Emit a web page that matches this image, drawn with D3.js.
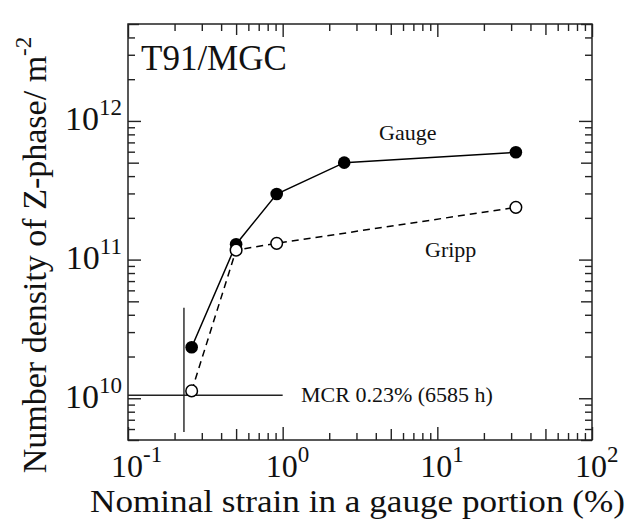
<!DOCTYPE html>
<html>
<head>
<meta charset="utf-8">
<script src="https://cdn.jsdelivr.net/npm/d3@7"></script>
<style>
  body { margin: 0; background: #fff; }
  text { font-family: "Liberation Serif", "Times New Roman", serif; fill: #111; }
</style>
</head>
<body>
<svg id="chart" width="630" height="519"></svg>
<script>
// Nominal strain (%) and Z-phase number density (m^-2)
const strainGauge  = [0.258, 0.5, 0.915, 2.5, 32.2];
const densityGauge = [2.33e10, 1.29e11, 2.97e11, 5.0e11, 5.94e11];
const strainGripp  = [0.258, 0.5, 0.915, 32.2];
const densityGripp = [1.13e10, 1.17e11, 1.31e11, 2.38e11];

// MCR reference cross (0.23 % strain, 6585 h)
const mcrStrain = 0.23;
const mcrDensity = 1.05e10;
const mcrDensityRange = [5.7e9, 4.5e10];
const mcrStrainRange = [0.1, 1];

// Axis decades and their exponent labels
const xMajor = [0.1, 1, 10, 100];
const xExponents = ["-1", "0", "1", "2"];
const yMajor = [1e10, 1e11, 1e12];
const yExponents = ["10", "11", "12"];

const svg = d3.select("#chart");
const plotL = 128, plotR = 592, plotT = 24, plotB = 440;

const x = d3.scaleLog().domain([0.1, 100]).range([plotL, plotR]);
const y = d3.scaleLog().domain([5e9, 5e12]).range([plotB, plotT]);

// tick values within a log domain for given mantissas
function logTicks(scale, mantissas) {
  const [lo, hi] = scale.domain();
  const out = [];
  for (let k = Math.floor(Math.log10(lo)); k <= Math.ceil(Math.log10(hi)); k++) {
    mantissas.forEach(m => {
      const v = m * Math.pow(10, k);
      if (v >= lo * 0.999 && v <= hi * 1.001) out.push(v);
    });
  }
  return out;
}

const tickSets = [
  { mant: [1], size: 13 },
  { mant: [5], size: 11 },
  { mant: [2, 3, 4, 6, 7, 8, 9], size: 7 }
];

const axisDefs = [
  { gen: d3.axisBottom, scale: x, tr: `translate(0,${plotB})` },
  { gen: d3.axisTop,    scale: x, tr: `translate(0,${plotT})` },
  { gen: d3.axisLeft,   scale: y, tr: `translate(${plotL},0)` },
  { gen: d3.axisRight,  scale: y, tr: `translate(${plotR},0)` }
];

axisDefs.forEach(a => {
  tickSets.forEach(t => {
    const g = svg.append("g")
      .attr("transform", a.tr)
      .call(a.gen(a.scale)
        .tickValues(logTicks(a.scale, t.mant))
        .tickSize(-t.size)
        .tickFormat(""));
    g.select(".domain").remove();
    g.selectAll(".tick line").attr("stroke", "#222").attr("stroke-width", 1.4);
  });
});

// plot frame
svg.append("rect")
  .attr("x", plotL).attr("y", plotT)
  .attr("width", plotR - plotL).attr("height", plotB - plotT)
  .attr("fill", "none").attr("stroke", "#222").attr("stroke-width", 1.5);

// x tick labels: 10 with superscript exponent
const xLab = svg.append("g").selectAll("text")
  .data(xMajor).join("text")
  .attr("x", d => x(d) - 17)
  .attr("y", 477)
  .attr("font-size", 32);
xLab.append("tspan").text("10");
xLab.append("tspan")
  .attr("font-size", 23)
  .attr("dy", -15)
  .text((d, i) => xExponents[i]);

// y tick labels
const yLab = svg.append("g").selectAll("text")
  .data(yMajor).join("text")
  .attr("x", plotL - 6)
  .attr("y", d => y(d) + 9.5)
  .attr("text-anchor", "end")
  .attr("font-size", 34);
yLab.append("tspan").text("10");
yLab.append("tspan")
  .attr("font-size", 23)
  .attr("dy", -15)
  .text((d, i) => yExponents[i]);

// MCR cross
svg.append("line")
  .attr("x1", x(mcrStrainRange[0])).attr("x2", x(mcrStrainRange[1]))
  .attr("y1", y(mcrDensity)).attr("y2", y(mcrDensity))
  .attr("stroke", "#222").attr("stroke-width", 1.4);
svg.append("line")
  .attr("x1", x(mcrStrain)).attr("x2", x(mcrStrain))
  .attr("y1", y(mcrDensityRange[0])).attr("y2", y(mcrDensityRange[1]))
  .attr("stroke", "#222").attr("stroke-width", 1.4);

const line = d3.line().x(d => x(d[0])).y(d => y(d[1]));
const gauge = strainGauge.map((s, i) => [s, densityGauge[i]]);
const gripp = strainGripp.map((s, i) => [s, densityGripp[i]]);

svg.append("path").datum(gripp)
  .attr("d", line).attr("fill", "none")
  .attr("stroke", "#000").attr("stroke-width", 1.5)
  .attr("stroke-dasharray", "7,5");
svg.append("path").datum(gauge)
  .attr("d", line).attr("fill", "none")
  .attr("stroke", "#000").attr("stroke-width", 1.5);

svg.append("g").selectAll("circle")
  .data(gauge).join("circle")
  .attr("cx", d => x(d[0])).attr("cy", d => y(d[1]))
  .attr("r", 6.3).attr("fill", "#000");
svg.append("g").selectAll("circle")
  .data(gripp).join("circle")
  .attr("cx", d => x(d[0])).attr("cy", d => y(d[1]))
  .attr("r", 5.8).attr("fill", "#fff")
  .attr("stroke", "#000").attr("stroke-width", 1.5);

// annotations
svg.append("text").attr("x", 141).attr("y", 70).attr("font-size", 35).text("T91/MGC");
svg.append("text").attr("x", 379).attr("y", 140).attr("font-size", 22).text("Gauge");
svg.append("text").attr("x", 425).attr("y", 257).attr("font-size", 22).text("Gripp");
svg.append("text").attr("x", 301).attr("y", 402).attr("font-size", 22).text("MCR 0.23% (6585 h)");

// axis titles
svg.append("text")
  .attr("x", 90).attr("y", 512)
  .attr("font-size", 31)
  .attr("textLength", 535)
  .attr("lengthAdjust", "spacingAndGlyphs")
  .text("Nominal strain in a gauge portion (%)");

const yTitle = svg.append("text")
  .attr("transform", "translate(46,255) rotate(-90)")
  .attr("text-anchor", "middle")
  .attr("font-size", 34);
yTitle.append("tspan").text("Number density of Z-phase/ m");
yTitle.append("tspan").attr("font-size", 23).attr("dy", -15).text("-2");
</script>
</body>
</html>
